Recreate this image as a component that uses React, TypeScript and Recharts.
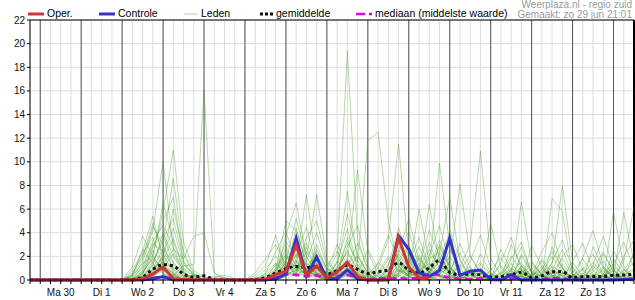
import React from 'react';
import { LineChart, Line, XAxis, YAxis, CartesianGrid, ReferenceLine } from 'recharts';

// 6-hourly steps, index 0 = zo 29 18:00, day labels sit at 12:00 of each day
const dayLabels = ['Ma 30', 'Di 1', 'Wo 2', 'Do 3', 'Vr 4', 'Za 5', 'Zo 6', 'Ma 7', 'Di 8', 'Wo 9', 'Do 10', 'Vr 11', 'Za 12', 'Zo 13'];
const yTicks = [0, 2, 4, 6, 8, 10, 12, 14, 16, 18, 20, 22];

// operational run stops after ~10 days
const oper = [
  0, 0, 0, 0, 0, 0, 0, 0, 0, 0,
  0, 0.1, 0.5, 1.1, 0.1, 0.05, 0, 0, 0, 0,
  0, 0, 0, 0.05, 0.45, 0.75, 2.95, 0.4, 1.2, 0.15,
  0.7, 1.5, 0.3, 0, 0, 0, 3.6, 1.1, 0.2, 0.2,
];
const controle = [
  0, 0, 0, 0, 0, 0, 0, 0, 0, 0,
  0, 0, 0.1, 0.3, 0, 0, 0, 0, 0, 0,
  0, 0, 0, 0, 0.1, 0.5, 3.55, 0.3, 1.95, 0.1,
  0.1, 0.85, 0.1, 0, 0, 0.05, 3.75, 2.6, 0.6, 0.3,
  0.8, 3.55, 0.4, 0.75, 0.85, 0.05, 0, 0.45, 0, 0,
  0, 0, 0, 0, 0, 0, 0, 0, 0.05, 0.1,
];
const gemiddelde = [
  0, 0, 0, 0, 0, 0, 0, 0, 0, 0,
  0.05, 0.25, 0.9, 1.3, 1.2, 0.5, 0.25, 0.35, 0.05, 0,
  0, 0, 0.05, 0.2, 0.6, 0.95, 1.15, 1.05, 1.15, 0.5,
  0.8, 1.25, 0.9, 0.55, 0.7, 0.85, 1.45, 0.85, 0.6, 1.05,
  1.65, 0.65, 0.45, 0.5, 0.45, 0.25, 0.3, 0.45, 0.65, 0.2,
  0.35, 0.7, 0.7, 0.2, 0.28, 0.3, 0.3, 0.4, 0.42, 0.5,
];
const mediaan = [
  0, 0, 0, 0, 0, 0, 0, 0, 0, 0,
  0, 0, 0.2, 0.25, 0.05, 0, 0, 0, 0, 0,
  0, 0, 0, 0, 0.2, 0.5, 0.45, 0.3, 0.4, 0.1,
  0.3, 0.45, 0.2, 0.05, 0.15, 0.1, 0.15, 0.1, 0.2, 0.55,
  0.4, 0.2, 0.1, 0.05, 0.15, 0, 0.05, 0.15, 0, 0,
  0, 0.15, 0.15, 0, 0, 0, 0, 0, 0, 0,
];

// ensemble members (leden)
const lid01 = [
  0, 0, 0, 0, 0, 0, 0, 0, 0, 0,
  0.3, 1.5, 4.2, 10.1, 2.5, 0.6, 0.2, 0, 0, 0,
  0, 0, 0, 0, 0.5, 1.8, 2.6, 1.2, 0.4, 0.2,
  1.1, 2.3, 0.8, 0.2, 0, 0, 1.4, 0.6, 0.3, 1.8,
  2.4, 0.5, 0, 0, 0, 0, 0, 0.8, 1.5, 0.2,
  0, 1.2, 0.6, 0, 0, 0.4, 1.1, 0.3, 0, 0,
];
const lid02 = [
  0, 0, 0, 0, 0, 0, 0, 0, 0, 0,
  0, 0.5, 2.2, 5.8, 11, 3.2, 0.8, 0.3, 0, 0,
  0, 0, 0, 0.4, 1.2, 2.1, 0.9, 3.1, 1.6, 0.5,
  0.3, 1.4, 2, 0.6, 0, 0.4, 2.2, 1.1, 0.5, 0,
  1.1, 0.8, 2.3, 0.6, 0, 0, 0, 0, 0.3, 0,
  0.9, 2.4, 1, 0.2, 0, 0, 0, 0, 0.6, 1.5,
];
const lid03 = [
  0, 0, 0, 0, 0, 0, 0, 0, 0, 0,
  0, 0, 0, 0, 0.4, 1.2, 1.3, 16.1, 0.6, 0,
  0, 0, 0, 0, 0, 0.3, 1.1, 0.5, 2.4, 1,
  0.4, 0.9, 0.3, 0, 0, 0, 0, 0.5, 1.9, 0.7,
  0.3, 0, 0, 0, 1.3, 0.4, 0, 0, 0, 0.5,
  1.6, 0.4, 0, 0, 0.9, 2.2, 0.5, 0, 0, 0,
];
const lid04 = [
  0, 0, 0, 0, 0, 0, 0, 0, 0, 0,
  0.8, 2.4, 5.4, 1.6, 0.5, 0, 0, 0, 0, 0,
  0, 0, 0.2, 0.9, 2, 1, 3.4, 0.8, 0.3, 0,
  1.6, 0.7, 0, 0, 0.5, 1.3, 3.1, 0.9, 0.2, 0,
  0, 1.6, 0.4, 1.1, 0.3, 0, 0.6, 2, 0.8, 0,
  0, 0, 1.3, 0.4, 0, 0, 0, 1.8, 0.5, 0,
];
const lid05 = [
  0, 0, 0, 0, 0, 0, 0, 0, 0, 0,
  0, 0.6, 1.9, 6.5, 3.3, 1, 0.4, 0, 0, 0,
  0, 0, 0, 0, 0.3, 3.8, 6.5, 2, 0.6, 0.2,
  0, 1.2, 3.1, 1, 0, 0, 0.6, 2.2, 1, 0.3,
  3, 1.2, 0, 0, 0, 0, 0, 0, 1.2, 0.3,
  0, 0.8, 2.6, 0.5, 0, 0, 0.3, 0.9, 0, 0,
];
const lid06 = [
  0, 0, 0, 0, 0, 0, 0, 0, 0, 0,
  0.4, 1.8, 4.5, 3, 0.9, 0.2, 0, 0, 0, 0,
  0, 0, 0, 0, 0, 0.6, 1.4, 7.2, 1.5, 0.3,
  0.2, 0.6, 0, 0.4, 1.5, 0.6, 0.3, 0, 0, 2.6,
  1, 0.3, 0, 0, 0, 0.8, 1.9, 0.5, 0, 0,
  0.4, 1.1, 0, 0, 0.3, 0.9, 2.4, 0.6, 0, 0,
];
const lid07 = [
  0, 0, 0, 0, 0, 0, 0, 0, 0, 0,
  1.1, 3.7, 2, 0.8, 0.2, 0, 0, 0, 0, 0,
  0, 0, 0, 0.6, 1.4, 0.5, 0.8, 1.9, 7.2, 1.8,
  0.5, 0.3, 0, 0, 0, 0.9, 2.6, 4.1, 1.2, 0.3,
  0, 0, 0.8, 2.1, 0.5, 0, 0, 0, 0.4, 1.3,
  0.5, 0, 0, 0.6, 1.8, 0.4, 0, 0, 0, 0,
];
const lid08 = [
  0, 0, 0, 0, 0, 0, 0, 0, 0, 0,
  0, 0.3, 1.6, 3.2, 8.6, 2.1, 0.5, 0, 0, 0,
  0, 0, 0, 0, 0, 0.4, 0.9, 0.5, 1.3, 0.6,
  2.2, 19.4, 3.5, 0.8, 0.3, 0, 0.5, 1, 2.8, 0.9,
  0.4, 0, 0, 0, 0, 0, 0, 0.3, 0.9, 0.4,
  0, 0.6, 1.8, 0.5, 0, 0, 0, 0, 0.4, 1,
];
const lid09 = [
  0, 0, 0, 0, 0, 0, 0, 0, 0, 0,
  0, 0, 0.5, 1.4, 2.6, 1.8, 3.7, 4, 0.6, 0.2,
  0, 0, 0, 0, 0.4, 1.1, 2, 0.6, 0, 0.3,
  1.4, 7.5, 1.6, 0.4, 0, 0.3, 1.1, 0.4, 0, 1,
  9.9, 2.8, 0.6, 0, 0, 0, 0.3, 1, 0.4, 0,
  0, 0.3, 0.9, 0, 0, 0, 0.5, 1.4, 0.3, 0,
];
const lid10 = [
  0, 0, 0, 0, 0, 0, 0, 0, 0, 0,
  0, 0.4, 2.8, 5, 7, 1.5, 0.3, 0, 0, 0,
  0, 0, 0, 0, 0.8, 2.5, 1.3, 0.4, 0.8, 0.3,
  0.6, 1.6, 9.3, 2.4, 0.5, 0, 0, 0.7, 6, 1.6,
  0.4, 0, 0, 0, 0, 0.5, 0.2, 0, 2.2, 0.7,
  0.3, 0, 0, 0.4, 1, 0.3, 0, 0, 0, 0,
];
const lid11 = [
  0, 0, 0, 0, 0, 0, 0, 0, 0, 0,
  0.2, 1, 3.1, 2.4, 1.1, 0.4, 0, 0, 0, 0,
  0, 0, 0, 0, 0, 0, 0.6, 1.4, 0.6, 0.2,
  0.9, 3.2, 1.5, 11.8, 12.5, 5, 1.2, 0.3, 0, 0.6,
  1.9, 0.7, 0, 0.4, 1.5, 0.5, 0, 0, 0, 0.3,
  1.2, 0.4, 0, 0, 0, 0.7, 1.6, 0.4, 0, 0,
];
const lid12 = [
  0, 0, 0, 0, 0, 0, 0, 0, 0, 0,
  0, 0, 0.7, 2.1, 4.4, 1.3, 0.5, 0.2, 0, 0,
  0, 0, 0, 0, 0.3, 1.5, 0.8, 2.4, 1, 0.4,
  0, 1.1, 0.5, 0.3, 1, 3.4, 11.5, 2.2, 0.6, 0,
  0.8, 2, 0.5, 0, 0, 0, 0, 0.9, 2.8, 0.6,
  0, 0, 0.5, 1.1, 0, 0, 0, 0, 0.8, 2.1,
];
const lid13 = [
  0, 0, 0, 0, 0, 0, 0, 0, 0, 0,
  0, 0.3, 1.2, 4, 2, 0.6, 0, 0, 0, 0,
  0, 0, 0, 0.3, 0.9, 5, 4.2, 1.5, 0.5, 0,
  0.8, 2.5, 0.9, 0, 0.4, 1.8, 0.7, 1.6, 0.5, 6.4,
  1.5, 0.6, 0.2, 0, 0, 0, 0.5, 1.4, 0.4, 0,
  0, 6.9, 5.8, 0.5, 0, 0, 0.3, 0.8, 0, 0,
];
const lid14 = [
  0, 0, 0, 0, 0, 0, 0, 0, 0, 0,
  0.5, 2.2, 3.6, 1.2, 0.4, 0, 0, 0, 0, 0,
  0, 0, 0, 0, 0.6, 2.2, 1, 0.4, 3, 0.9,
  0.3, 0.8, 2, 0.5, 0, 0, 0.9, 0.4, 1.4, 0.6,
  2.2, 7, 1.6, 0.5, 0, 0.4, 1.2, 0.4, 0, 0,
  0.6, 2, 0.7, 0, 0, 1.2, 0.4, 0, 0, 0,
];
const lid15 = [
  0, 0, 0, 0, 0, 0, 0, 0, 0, 0,
  0, 0, 0.4, 1.7, 3.5, 0.9, 0.3, 0, 0, 0,
  0, 0, 0, 0, 0, 0.5, 2.8, 0.9, 0.3, 0.5,
  1.5, 4.3, 1.2, 0.3, 0, 0.5, 1.8, 0.6, 0.3, 0,
  0.7, 1.4, 8.1, 2, 0.6, 0, 0, 0, 0.5, 1.6,
  0.4, 0, 0, 0.3, 0.9, 0, 0, 5.8, 1.2, 0,
];
const lid16 = [
  0, 0, 0, 0, 0, 0, 0, 0, 0, 0,
  0, 0.6, 2.5, 1.3, 0.5, 0, 0, 0, 0, 0,
  0, 0, 0.4, 1.2, 3.8, 0.8, 0.3, 1.1, 2.2, 0.7,
  0.2, 0.7, 0.3, 0, 0, 0, 0.4, 1.3, 0.5, 0.2,
  0, 0.5, 1.1, 3, 10.9, 1.8, 0.4, 0, 0, 0.4,
  0.8, 0.3, 0, 0, 0.5, 1.5, 0.5, 0, 0, 0,
];
const lid17 = [
  0, 0, 0, 0, 0, 0, 0, 0, 0, 0,
  0, 0, 1, 2.6, 1.5, 0.5, 0, 0, 0, 0,
  0, 0, 0, 0, 0.2, 0.9, 1.7, 0.7, 0.4, 0.3,
  0.6, 1.8, 0.7, 0, 0, 0.6, 1.5, 3, 0.9, 0.3,
  0.6, 1, 0.3, 0, 0, 4.8, 1, 0.3, 6.6, 1.5,
  0.4, 0, 0.6, 0.3, 0, 0, 0.4, 1.1, 0.5, 0,
];
const lid18 = [
  0, 0, 0, 0, 0, 0, 0, 0, 0, 0,
  0.3, 1.4, 2, 0.7, 0, 0, 0, 0, 0, 0,
  0, 0, 0, 0, 0, 1, 3, 1.2, 0.5, 0,
  0.3, 1, 0.4, 0, 0.6, 2, 0.8, 0.3, 0, 0.8,
  3.4, 1, 0.3, 0, 0.9, 0.3, 0, 0.6, 0.2, 0,
  0.5, 1.4, 8, 1.5, 0.3, 0, 0, 0, 0.9, 0.3,
];
const lid19 = [
  0, 0, 0, 0, 0, 0, 0, 0, 0, 0,
  0, 0, 0.3, 1, 2.2, 0.8, 0, 0, 0, 0,
  0, 0, 0, 0, 0.5, 1.3, 0.4, 2.8, 0.9, 0.3,
  0, 0.5, 1.3, 0.4, 0, 0, 0.3, 0.9, 2.1, 0.6,
  0, 0.4, 1.3, 0.5, 0, 0, 0.3, 0.8, 0.3, 0,
  0, 0, 0.4, 0.2, 0, 0, 1, 0.3, 5.7, 1.5,
];
const lid20 = [
  0, 0, 0, 0, 0, 0, 0, 0, 0, 0,
  0, 0.2, 0.9, 1.9, 0.8, 0, 0, 0, 0, 0,
  0, 0, 0, 0.2, 0.7, 2.8, 1.2, 0.4, 0.6, 0.2,
  0.4, 1.3, 0.5, 0, 0, 0.3, 0.9, 0.5, 0.4, 3.2,
  0.9, 0.3, 0, 0.6, 0.2, 0, 0, 0, 0.4, 0.9,
  0.3, 0, 0, 0, 0.4, 0.3, 0, 0, 1.6, 6.2,
];
const lid21 = [
  0, 0, 0, 0, 0, 0, 0, 0, 0, 0,
  0, 0, 0.6, 1.5, 1, 0.3, 0, 0, 0.3, 0.2,
  0, 0, 0, 0, 0, 0.4, 1.6, 0.6, 1.8, 0.5,
  0, 0.7, 0.3, 0, 0.3, 0.8, 2, 0.6, 0, 0.4,
  1.2, 0.4, 0, 0.9, 0.3, 0, 0, 0.5, 1, 0.3,
  0, 0.6, 0.4, 0, 0, 0.5, 0.3, 0, 0, 0,
];
const lid22 = [
  0, 0, 0, 0, 0, 0, 0, 0, 0, 0,
  0, 0.3, 1.3, 0.9, 0.3, 0, 0, 0, 0, 0,
  0, 0, 0, 0, 0.3, 0.7, 2.2, 0.9, 0.3, 0,
  0.5, 0.9, 0.3, 0, 0, 0, 0.6, 1.2, 0.4, 0,
  0.5, 1.1, 0.3, 0, 0, 0, 0.7, 0.3, 0, 0.4,
  1, 0.3, 0, 0.3, 0.6, 0, 0, 0.4, 0.3, 0,
];
const lid23 = [
  0, 0, 0, 0, 0, 0, 0, 0, 0, 0,
  0.1, 0.7, 1.8, 0.6, 0, 0, 0, 0, 0, 0,
  0, 0, 0, 0, 0.4, 1.6, 0.5, 0.8, 1.4, 0.4,
  0.9, 0.4, 0, 0, 0, 0.4, 1.2, 0.3, 0.8, 1.4,
  0.5, 0, 0.6, 0.2, 0, 0, 0, 0, 0.6, 0.2,
  0, 0.9, 0.3, 0, 0, 0.3, 0.8, 0.3, 0, 0,
];
const lid24 = [
  0, 0, 0, 0, 0, 0, 0, 0, 0, 0,
  0, 0, 0.4, 1.2, 0.6, 0.2, 0.4, 0.3, 0, 0,
  0, 0, 0, 0, 0, 0.5, 1.3, 0.4, 0.9, 0.3,
  0, 0.6, 1.1, 0.3, 0, 0, 0.8, 0.3, 0, 0.5,
  1.6, 0.5, 0, 0, 0.6, 0.2, 0, 0.3, 0.8, 0.2,
  0, 0, 0.6, 0.3, 0, 0, 0, 0, 0.4, 0.8,
];
const lid25 = [
  0, 0, 0, 0, 0, 0, 0, 0, 0, 0,
  0, 0, 0.3, 0.8, 0.4, 0, 0, 0, 0, 0,
  0, 0, 0, 0, 0, 0.3, 0.8, 0.3, 0.5, 0,
  0, 0.4, 0.2, 0, 0, 0, 0.4, 0.2, 0, 0.6,
  0.3, 0, 0.3, 0, 0, 0, 0, 0, 0.3, 0,
  0, 0.4, 0.2, 0, 0, 0, 0.3, 0, 0, 0,
];
const lid26 = [
  0, 0, 0, 0, 0, 0, 0.1, 0.1, 0, 0,
  0, 0.2, 0.6, 1.1, 0.3, 0, 0, 0, 0.2, 0.4,
  0.1, 0, 0, 0, 0.2, 0.6, 0.3, 0.6, 0.2, 0,
  0.3, 0.8, 0.3, 0, 0, 0, 0, 0.5, 0.2, 0,
  0.4, 0.2, 0, 0, 0, 0, 0, 0.4, 0, 0,
  0.3, 0.2, 0, 0, 0, 0.2, 0, 0.5, 0.2, 0,
];
const lid27 = [
  0, 0, 0, 0, 0, 0, 0, 0, 0, 0,
  0, 0.8, 2.9, 3.8, 1.4, 0.3, 0, 0, 0, 0,
  0, 0, 0, 0, 1, 3.2, 2, 4.5, 1.1, 0.4,
  0.6, 2.8, 4.6, 1.2, 0, 0, 2.5, 1.4, 3.6, 1,
  0.4, 2.6, 1, 0, 0, 0, 0, 1.8, 3.2, 0.6,
  0, 1.5, 3.4, 0.9, 0, 0, 2.2, 0.8, 0, 0,
];
const lid28 = [
  0, 0, 0, 0, 0, 0, 0, 0, 0, 0,
  0.6, 2, 4.8, 2.2, 0.6, 0, 0, 0, 0, 0,
  0, 0, 0, 0.5, 2.4, 4.1, 1.5, 0.6, 2.6, 1,
  0.4, 3.6, 1.1, 0, 0, 1.2, 4.4, 2, 0.5, 2,
  4.6, 1.3, 0, 1.6, 3.8, 1, 0, 0, 1.2, 0.4,
  2.4, 4, 1.1, 0, 0, 2.8, 1, 0, 2, 3.4,
];
const lid29 = [
  0, 0, 0, 0, 0, 0, 0, 0, 0, 0,
  0, 0, 1.5, 3.5, 5.2, 1.6, 0.4, 0, 0, 0,
  0, 0, 0, 0, 0, 1.6, 5.2, 2, 0.7, 0.2,
  1, 5.6, 2.2, 0.6, 0, 0, 1, 2.8, 1, 4.2,
  2, 0.5, 3.1, 1, 0, 0, 2.6, 0.8, 0, 2.9,
  1.1, 0, 0, 1.6, 3.1, 0.8, 0, 2.5, 0.9, 0,
];
const lid30 = [
  0, 0, 0, 0, 0, 0, 0, 0, 0, 0,
  0, 1.2, 3.3, 4.6, 2.8, 0.7, 0, 0, 0, 0,
  0, 0, 0.6, 1.8, 3, 1.2, 0.6, 3.6, 5, 1.5,
  0.5, 1.4, 0.6, 0, 1.4, 3.8, 1.7, 0.6, 1.8, 0.7,
  1.5, 4.2, 1.8, 0, 0, 0, 0, 3, 1.2, 0,
  0, 2.8, 1, 0, 0, 1.3, 3.7, 1, 0, 0,
];
const lid31 = [
  0, 0, 0, 0, 0, 0, 0, 0, 0, 0,
  0, 0, 0.8, 2, 6, 2.4, 0.6, 0, 0, 0,
  0, 0, 0, 0, 0.8, 2, 0.8, 1.6, 4, 1.2,
  2.4, 1, 0.4, 0, 0, 0.8, 2.2, 5.2, 1.6, 0.6,
  2.8, 1, 0, 0, 2.2, 0.6, 0, 0, 2, 0.6,
  0.3, 0, 2, 3, 0.8, 0, 0, 1.3, 3.2, 1,
];
const lid32 = [
  0, 0, 0, 0, 0, 0, 0, 0, 0, 0,
  0.4, 2.6, 1.4, 0.5, 0, 0, 0, 0, 0, 0,
  0, 0, 0, 0, 1.4, 0.6, 4.4, 1.2, 0.5, 0.8,
  3, 1.2, 0.5, 2.6, 1, 0, 0.6, 1.8, 0.6, 0.3,
  1, 3.3, 0.8, 0.4, 0, 0, 1.5, 3.6, 0.9, 0,
  1.8, 0.6, 0, 0, 1.9, 4.2, 1.2, 0, 0, 2.4,
];

const leden = [
  lid01, lid02, lid03, lid04, lid05, lid06, lid07, lid08, lid09, lid10, lid11, lid12, lid13, lid14, lid15, lid16,
  lid17, lid18, lid19, lid20, lid21, lid22, lid23, lid24, lid25, lid26, lid27, lid28, lid29, lid30, lid31, lid32,
];

const data = gemiddelde.map((g, i) => {
  const row: Record<string, number | null> = {
    i,
    oper: i < oper.length ? oper[i] : null,
    controle: controle[i],
    gemiddelde: g,
    mediaan: mediaan[i],
  };
  leden.forEach((lid, k) => {
    row['lid' + k] = lid[i];
  });
  return row;
});

const allTicks = gemiddelde.map((_, i) => i);
const dayStarts = [...dayLabels.map((_, k) => 1 + 4 * k), 1 + 4 * dayLabels.length];

const FONT = '"Liberation Sans", Arial, Helvetica, sans-serif';

function DayTick(props: any) {
  const { x, y, payload } = props;
  const k = (payload.value - 3) / 4;
  if (!Number.isInteger(k) || !dayLabels[k]) return <g />;
  return (
    <text x={x} y={y} dy={10} textAnchor="middle" fontSize={10} fill="#111" fontFamily={FONT}>
      {dayLabels[k]}
    </text>
  );
}

function Swatch({ color, width, dash, thick }: { color: string; width: number; dash?: string; thick: number }) {
  return (
    <svg width={width} height={8} style={{ display: 'inline-block', verticalAlign: 'middle', marginRight: 3 }}>
      <line x1={0} y1={4} x2={width} y2={4} stroke={color} strokeWidth={thick} strokeDasharray={dash} />
    </svg>
  );
}

export default function App() {
  const legendItem: React.CSSProperties = { position: 'absolute', top: 6, fontSize: 10.5, color: '#000', whiteSpace: 'nowrap', lineHeight: '14px' };
  return (
    <div style={{ position: 'absolute', left: 0, top: 0, width: 635, height: 300, background: '#fff', fontFamily: FONT }}>
      <LineChart width={635} height={300} data={data} margin={{ top: 20, right: 1, bottom: 0, left: 0 }}>
        <CartesianGrid stroke="#dcdcdc" strokeWidth={1} />
        <XAxis
          dataKey="i"
          type="number"
          domain={[0, 59]}
          ticks={allTicks}
          interval={0}
          tick={<DayTick />}
          tickSize={4}
          tickMargin={2}
          height={20}
          stroke="#000"
          tickLine={{ stroke: '#000' }}
          axisLine={{ stroke: '#000' }}
        />
        <YAxis
          domain={[0, 22]}
          ticks={yTicks}
          interval={0}
          width={30}
          tickSize={3}
          tickMargin={2}
          tick={{ fontSize: 10, fill: '#111', fontFamily: FONT }}
          tickLine={{ stroke: '#000' }}
          axisLine={{ stroke: '#000' }}
        />
        {dayStarts.map((d) => (
          <ReferenceLine key={d} x={d} stroke="#555" strokeWidth={1} />
        ))}
        <ReferenceLine y={22} stroke="#000" strokeWidth={1} />
        <ReferenceLine x={59} stroke="#000" strokeWidth={2} />
        {leden.map((_, k) => (
          <Line
            key={k}
            dataKey={'lid' + k}
            stroke="#3f9a1f"
            strokeOpacity={0.38}
            strokeWidth={1}
            dot={false}
            activeDot={false}
            isAnimationActive={false}
          />
        ))}
        <Line dataKey="mediaan" stroke="#e000e0" strokeWidth={2.5} strokeDasharray="7 4" dot={false} activeDot={false} isAnimationActive={false} />
        <Line dataKey="gemiddelde" type="monotone" stroke="#111" strokeWidth={3} strokeDasharray="3 3" dot={false} activeDot={false} isAnimationActive={false} />
        <Line dataKey="controle" stroke="#3333cc" strokeWidth={3} dot={false} activeDot={false} isAnimationActive={false} />
        <Line dataKey="oper" stroke="#d03434" strokeWidth={3} dot={false} activeDot={false} isAnimationActive={false} />
      </LineChart>

      <div style={{ ...legendItem, left: 28 }}>
        <Swatch color="#d03434" width={16} thick={3} />
        Oper.
      </div>
      <div style={{ ...legendItem, left: 99 }}>
        <Swatch color="#3333cc" width={16} thick={3} />
        Controle
      </div>
      <div style={{ ...legendItem, left: 184 }}>
        <Swatch color="#a9d89c" width={14} thick={1} />
        Leden
      </div>
      <div style={{ ...legendItem, left: 260 }}>
        <Swatch color="#111" width={13} thick={3} dash="3 2" />
        gemiddelde
      </div>
      <div style={{ ...legendItem, left: 356 }}>
        <Swatch color="#e000e0" width={16} thick={2.5} dash="9 4" />
        mediaan (middelste waarde)
      </div>
      <div style={{ position: 'absolute', right: 3, top: 0, fontSize: 10, color: '#9a9a9a', textAlign: 'right', lineHeight: '10px' }}>
        Weerplaza.nl - regio zuid
        <br />
        Gemaakt: zo 29 jun 21:01
      </div>
    </div>
  );
}
